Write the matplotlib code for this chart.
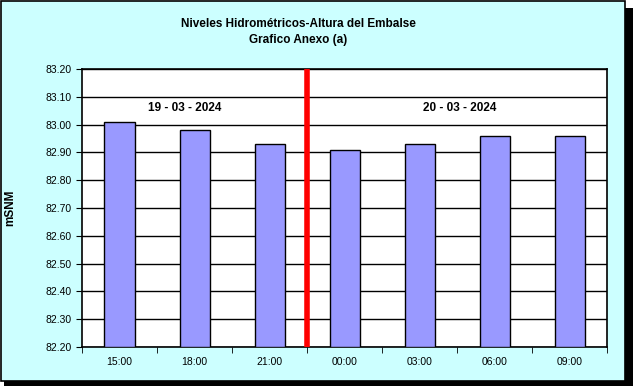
import numpy as np
import matplotlib.pyplot as plt
from matplotlib.patches import Rectangle

plt.rcParams['font.family'] = ['Liberation Sans', 'DejaVu Sans']

horas = ['15:00', '18:00', '21:00', '00:00', '03:00', '06:00', '09:00']
niveles = [83.01, 82.98, 82.93, 82.91, 82.93, 82.96, 82.96]
fechas = ['19 - 03 - 2024', '20 - 03 - 2024']

fig = plt.figure(figsize=(6.33, 3.86), dpi=100)
fig.patch.set_facecolor('white')

# fondo cian con borde y sombra
fig.patches.append(Rectangle((4/633, 0), 629/633, 1 - 8/386, transform=fig.transFigure,
                             facecolor='black', edgecolor='none', zorder=-2))
fig.patches.append(Rectangle((1/633, 5/386), 624/633, 1 - 6/386, transform=fig.transFigure,
                             facecolor='#CCFFFF', edgecolor='black', linewidth=1.2, zorder=-1))

ax = fig.add_axes([82/633, 1 - 347/386, 525/633, 278/386])
ax.set_facecolor('white')
x = np.arange(len(horas))
ax.bar(x, [v - 82.2 for v in niveles], bottom=82.2, width=0.4,
       color='#9999FF', edgecolor='black', linewidth=1, zorder=3)
ax.axvline(2.5, color='#FF0000', linewidth=4, zorder=4)

ax.set_xlim(-0.5, len(horas) - 0.5)
ax.set_ylim(82.2, 83.2)
ax.set_yticks(np.arange(82.2, 83.21, 0.1))
ax.set_yticklabels(['%.2f' % v for v in np.arange(82.2, 83.21, 0.1)], fontsize=7.5)
ax.set_xticks(x)
ax.set_xticklabels(horas, fontsize=7.5)
ax.set_xticks(np.arange(-0.5, len(horas), 1), minor=True)
ax.tick_params(axis='x', which='major', length=0, pad=7)
ax.tick_params(axis='x', which='minor', length=4, direction='out')
ax.tick_params(axis='y', length=4, direction='out')
ax.yaxis.grid(True, color='black', linewidth=1, zorder=0)
ax.set_axisbelow(True)
for s in ax.spines.values():
    s.set_linewidth(1.2)

ax.text(0.87, 83.06, fechas[0], ha='center', va='center', fontsize=8.5, fontweight='bold')
ax.text(4.54, 83.06, fechas[1], ha='center', va='center', fontsize=8.5, fontweight='bold')

fig.text(10/633, 1 - 208/386, 'mSNM', rotation=90, ha='center', va='center',
         fontsize=8.5, fontweight='bold')
fig.text(298/633, 1 - 24/386, 'Niveles Hidrométricos-Altura del Embalse', ha='center',
         va='center', fontsize=8.5, fontweight='bold')
fig.text(298/633, 1 - 40/386, 'Grafico Anexo (a)', ha='center', va='center',
         fontsize=8.5, fontweight='bold')

fig.savefig('out.png', dpi=100)
